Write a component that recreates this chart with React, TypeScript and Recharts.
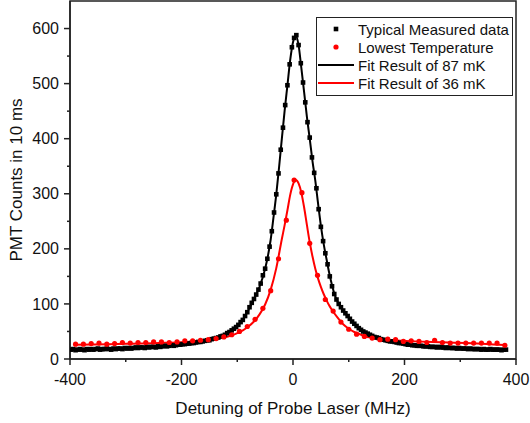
import React from "react";
import {
  ComposedChart,
  Scatter,
  Line,
  XAxis,
  YAxis,
  Legend,
  ReferenceArea,
} from "recharts";

const FONT = "Arial, 'Liberation Sans', sans-serif";

// Typical measured data, sampled every 4 MHz from -398 MHz
const BLACK_START = -398;
const BLACK_STEP = 4;
const blackCounts = [
  17, 18, 16, 17, 18, 17, 16, 18, 17, 18, 17, 18, 19, 17, 18, 18, 19, 18, 17, 19,
  18, 19, 19, 18, 20, 19, 20, 19, 20, 21, 20, 21, 21, 20, 22, 21, 22, 22, 21, 23,
  22, 23, 24, 23, 24, 25, 24, 25, 26, 26, 27, 27, 28, 28, 29, 29, 30, 31, 31, 32,
  33, 34, 34, 36, 37, 38, 39, 41, 42, 44, 47, 49, 52, 55, 58, 62, 67, 71, 78, 85,
  94, 102, 109, 117, 126, 137, 152, 164, 182, 204, 232, 266, 299, 337, 380, 420, 461, 497, 535, 566,
  583, 588, 570, 537, 502, 466, 430, 402, 366, 338, 310, 272, 240, 214, 192, 172, 150, 132, 118, 108,
  100, 94, 88, 83, 78, 73, 68, 64, 60, 56, 53, 50, 48, 46, 44, 42, 40, 39, 38, 36,
  35, 34, 33, 32, 32, 31, 30, 29, 29, 28, 27, 26, 26, 25, 25, 24, 24, 24, 23, 23,
  23, 22, 22, 22, 21, 22, 21, 21, 20, 21, 20, 20, 20, 19, 20, 19, 19, 19, 18, 19,
  18, 18, 18, 18, 17, 18, 17, 17, 18, 17, 17, 17, 17, 16, 17, 17,
];

// Lowest temperature data, sampled every 14 MHz from -390 MHz
const RED_START = -390;
const RED_STEP = 14;
const redCounts = [
  27, 27, 28, 29, 27, 28, 30, 29, 30, 30, 31, 31, 30, 31, 33, 33, 34, 35, 37, 40,
  44, 50, 59, 72, 92, 124, 182, 252, 325, 302, 210, 152, 108, 87, 67, 54, 45, 41, 38, 35,
  36, 35, 32, 33, 32, 30, 34, 30, 29, 29, 29, 29, 29, 29, 29, 25,
];

// Fit result of 87 mK
const blackFitX = [
  -400, -350, -300, -260, -220, -200, -180, -160, -150, -140,
  -130, -120, -110, -100, -90, -80, -70, -60, -50, -45,
  -40, -35, -30, -25, -20, -15, -10, -5, 0, 5,
  10, 15, 20, 25, 30, 35, 40, 45, 50, 55,
  60, 65, 70, 75, 80, 90, 100, 110, 120, 130,
  140, 150, 170, 190, 210, 240, 280, 320, 360, 382,
];
const blackFitY = [
  17, 18, 19.5, 21.5, 24, 26.5, 29, 32.5, 34, 37.5,
  41, 45.5, 52, 60, 71, 89, 109, 131, 164, 187,
  217, 257, 299, 348, 400, 451, 497, 543, 575, 587,
  570, 528, 484, 439, 400, 359, 324, 282, 242, 209,
  182, 156, 134, 116, 104, 88, 75, 64, 55, 48,
  43, 39, 33, 29, 26, 23, 20.5, 18.5, 17.5, 17,
];

// Fit result of 36 mK
const redFitX = [
  -390, -360, -330, -300, -270, -240, -210, -190, -170, -150,
  -130, -120, -110, -100, -90, -80, -70, -60, -50, -40,
  -30, -20, -15, -10, -5, 0, 5, 10, 15, 20,
  25, 30, 35, 40, 45, 50, 55, 60, 65, 70,
  80, 90, 100, 110, 120, 130, 140, 150, 160, 180,
  200, 220, 250, 280, 310, 340, 380,
];
const redFitY = [
  26, 26.5, 27, 27.5, 28, 29, 30, 31, 32.5, 34.5,
  38, 40, 43, 47, 52, 59, 68, 81, 99, 126,
  165, 218, 243, 270, 298, 317, 325, 319, 302, 275,
  243, 212, 186, 164, 146, 131, 118, 107, 97, 89,
  75, 63, 55, 49, 45, 41, 39, 37, 35.5, 34,
  33, 32, 31, 30, 29, 27.5, 25.5,
];

const xTicks = [-400, -300, -200, -100, 0, 100, 200, 300, 400];
const yTicks = [0, 50, 100, 150, 200, 250, 300, 350, 400, 450, 500, 550, 600];

const blackData = blackCounts.map((y, i) => ({ x: BLACK_START + i * BLACK_STEP, y }));
const redData = redCounts.map((y, i) => ({ x: RED_START + i * RED_STEP, y }));
const blackFit = blackFitX.map((x, i) => ({ x, y: blackFitY[i] }));
const redFit = redFitX.map((x, i) => ({ x, y: redFitY[i] }));

const TICK_SIZE = 6;
const X_TICK_MARGIN = 4;
const Y_TICK_MARGIN = 5;

function XTick(props: any) {
  const { x, y, payload } = props;
  const axisY = y - TICK_SIZE - X_TICK_MARGIN;
  const major = payload.value % 200 === 0;
  return (
    <g>
      <line x1={x} x2={x} y1={axisY} y2={axisY + (major ? 6 : 3)} stroke="#222" strokeWidth={1.5} />
      {major && (
        <text x={x} y={y + 16} textAnchor="middle" fontSize={16} fontFamily={FONT} fill="#111">
          {payload.value}
        </text>
      )}
    </g>
  );
}

function YTick(props: any) {
  const { x, y, payload } = props;
  const axisX = x + TICK_SIZE + Y_TICK_MARGIN;
  const major = payload.value % 100 === 0;
  return (
    <g>
      <line x1={axisX} x2={axisX - (major ? 6 : 3)} y1={y} y2={y} stroke="#222" strokeWidth={1.5} />
      {major && (
        <text x={x} y={y + 5.6} textAnchor="end" fontSize={16} fontFamily={FONT} fill="#111">
          {payload.value}
        </text>
      )}
    </g>
  );
}

function Square(props: any) {
  const { cx, cy } = props;
  return <rect x={cx - 2.3} y={cy - 2.3} width={4.6} height={4.6} fill="#000" />;
}

function Dot(props: any) {
  const { cx, cy } = props;
  return <circle cx={cx} cy={cy} r={2.6} fill="#ff0000" />;
}

const legendItems = [
  { name: "Typical Measured data", kind: "square", color: "#000" },
  { name: "Lowest Temperature", kind: "dot", color: "#ff0000" },
  { name: "Fit Result of 87 mK", kind: "line", color: "#000" },
  { name: "Fit Result of 36 mK", kind: "line", color: "#ff0000" },
];

function LegendBox() {
  return (
    <div
      style={{
        border: "1px solid #222",
        background: "#fff",
        width: 195,
        padding: "2px 0 3px 0",
        fontFamily: FONT,
        fontSize: 15,
        color: "#111",
      }}
    >
      {legendItems.map((it) => (
        <div key={it.name} style={{ display: "flex", alignItems: "center", height: 18 }}>
          <svg width={40} height={18} style={{ flex: "none" }}>
            {it.kind === "square" && <rect x={16.7} y={6.7} width={4.6} height={4.6} fill={it.color} />}
            {it.kind === "dot" && <circle cx={19} cy={9} r={2.6} fill={it.color} />}
            {it.kind === "line" && <line x1={1} x2={37} y1={9} y2={9} stroke={it.color} strokeWidth={2} />}
          </svg>
          <span style={{ marginLeft: 1, whiteSpace: "nowrap" }}>{it.name}</span>
        </div>
      ))}
    </div>
  );
}

export default function App() {
  return (
    <div style={{ position: "absolute", left: 0, top: 0, background: "#fff" }}>
      <ComposedChart width={530} height={423} margin={{ top: 1, right: 14, bottom: 0, left: 0 }}>
        <XAxis
          type="number"
          dataKey="x"
          domain={[-400, 400]}
          ticks={xTicks}
          interval={0}
          allowDataOverflow
          height={64}
          tickSize={TICK_SIZE}
          tickMargin={X_TICK_MARGIN}
          tickLine={false}
          tick={<XTick />}
          axisLine={{ stroke: "#222", strokeWidth: 1.5 }}
          label={{
            content: (p: any) => {
              const vb = p.viewBox;
              return (
                <text x={vb.x + vb.width / 2} y={414} textAnchor="middle" fontSize={17} fontFamily={FONT} fill="#111">
                  Detuning of Probe Laser (MHz)
                </text>
              );
            },
          }}
        />
        <YAxis
          type="number"
          dataKey="y"
          domain={[0, 650]}
          ticks={yTicks}
          interval={0}
          allowDataOverflow
          width={70}
          tickSize={TICK_SIZE}
          tickMargin={Y_TICK_MARGIN}
          tickLine={false}
          tick={<YTick />}
          axisLine={{ stroke: "#222", strokeWidth: 1.5 }}
          label={{
            content: (p: any) => {
              const vb = p.viewBox;
              const cy = vb.y + vb.height / 2;
              return (
                <text
                  x={16}
                  y={cy}
                  transform={`rotate(-90, 16, ${cy})`}
                  textAnchor="middle"
                  dominantBaseline="central"
                  fontSize={17}
                  fontFamily={FONT}
                  fill="#111"
                >
                  PMT Counts in 10 ms
                </text>
              );
            },
          }}
        />
        <ReferenceArea x1={-400} x2={400} y1={0} y2={650} fill="none" stroke="#222" strokeWidth={1.5} />
        <Scatter data={blackData} dataKey="y" shape={<Square />} isAnimationActive={false} />
        <Line data={blackFit} dataKey="y" type="monotone" stroke="#000" strokeWidth={2} dot={false} isAnimationActive={false} />
        <Scatter data={redData} dataKey="y" shape={<Dot />} isAnimationActive={false} />
        <Line data={redFit} dataKey="y" type="monotone" stroke="#ff0000" strokeWidth={2} dot={false} isAnimationActive={false} />
        <Legend
          layout="vertical"
          align="center"
          verticalAlign="middle"
          content={() => <LegendBox />}
          wrapperStyle={{ left: 316, top: 17, width: 197 }}
        />
      </ComposedChart>
    </div>
  );
}
